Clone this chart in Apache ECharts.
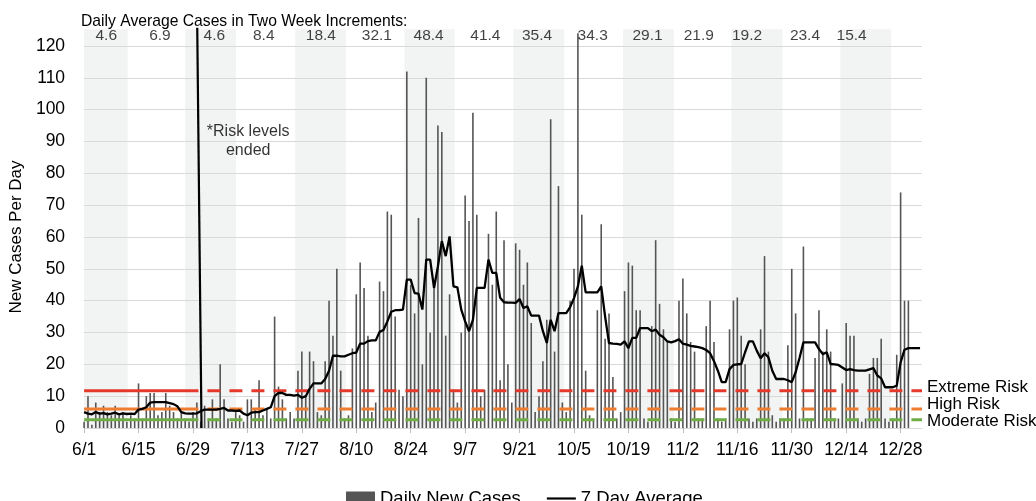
<!DOCTYPE html>
<html><head><meta charset="utf-8">
<script src="https://cdn.jsdelivr.net/npm/echarts@6/dist/echarts.min.js"></script>
<style>html,body{margin:0;padding:0;background:#fff}#c{width:1036px;height:501px}</style>
</head><body><div id="c"></div>
<script>
// ---- data (day index 0 = 6/1) ----
const tickLabels = ['6/1','6/15','6/29','7/13','7/27','8/10','8/24','9/7','9/21','10/5','10/19','11/2','11/16','11/30','12/14','12/28'];
const dailyCases = [
  2,10,1,8,5,7,5,4,7,4,5,2,4,3,
  14,3,10,11,11,4,5,11,7,5,3,5,3,2,
  5,8,2,7,3,9,3,20,9,3,2,5,4,2,
  9,9,6,15,4,6,3,35,13,9,3,5,3,18,
  24,10,24,21,5,4,21,40,29,50,18,3,4,25,
  42,52,44,29,5,8,46,43,68,67,35,12,10,112,
  45,36,66,20,110,30,45,95,93,29,42,12,8,30,
  73,65,99,67,10,12,61,45,68,15,59,20,8,58,
  56,45,52,33,5,10,21,34,97,24,76,8,5,40,
  50,124,67,18,4,3,37,64,28,36,16,3,5,43,
  52,51,37,37,3,2,32,59,39,31,27,3,2,40,
  47,36,27,24,3,3,32,40,27,3,2,3,31,40,
  41,29,20,3,2,3,31,54,24,4,2,3,3,26,
  50,36,3,57,3,3,22,37,24,31,24,3,3,14,
  33,29,29,3,2,3,17,22,22,28,3,2,3,23,
  74,40,40,0,0,0
];
const avg7 = [
  5,4.5,4.3,5,4.5,4.7,4.3,4.5,4.8,4.3,4.6,4.4,4.5,4.4,
  5.8,6,6.5,8,8.1,8.1,8.1,8.1,7.8,7.5,6.8,5,4.6,4.5,
  4.5,4.6,5.3,5.8,5.8,5.8,5.8,6,6.3,5.5,5.5,5.4,5.5,4.5,
  4,4.8,5,5,5.5,6,6.5,10,11,11,10.4,10.4,10.2,10.4,
  9.5,10,12.3,14,14,14,15.4,18,22.7,22.7,22.5,22.5,23,23.5,
  23.7,26.5,26.5,27.3,27.5,27.5,30.2,30.8,33.5,36.5,37,37,37.2,46.6,
  46.6,42.4,42.2,37.2,52.9,52.9,44,50.8,58.7,54,60.2,44.5,44.2,37.2,
  33.5,30.4,34,44,44,44,52.9,48.7,48.7,40.9,39.5,39.4,39.4,39.3,
  40.5,37.7,38.2,35.3,35.3,35.3,30.4,26.7,34,30.4,36.1,36.1,36.1,38,
  40.8,44.5,51,42.6,42.6,42.6,42.6,44.5,35,26.7,26.5,26.4,26.2,27.2,
  25.1,28.3,28.3,31.4,31.4,31.4,30.4,30.9,29.3,28.5,27.2,26.9,27.3,27.9,
  26.5,26.2,25.8,25.6,25.4,25.1,24.5,23.5,21,18,14.4,14.4,18.5,19.8,
  20,20.1,23.8,27.2,27.2,24.3,21.9,23.5,22.2,18,15.4,15.4,15.4,15,
  14.4,17.5,22,26.9,26.9,26.9,26.9,24.8,23.2,23.8,20.1,20,19.8,19,
  18.2,18.5,18.2,18,18,18,18.4,18.8,16.5,15.6,12.8,12.8,12.8,13.3,
  20.6,24.6,25.1,25.1,25.1,25.1
];
const twoWeekAverages = ['4.6','6.9','4.6','8.4','18.4','32.1','48.4','41.4','35.4','34.3','29.1','21.9','19.2','23.4','15.4'];
const riskNames = ['Extreme Risk','High Risk','Moderate Risk'];
const riskValues = [11.7, 6.0, 2.6];

// ---- layout (day coordinates of decorations) ----
const X_MAX = 215.5;
const RISK_END_DAY = 29.4;
const bandSpans = [[0,11.2],[26.0,39.1],[54.3,67.3],[82.4,95.3],[110.4,123.5],[138.6,151.7],[166.5,179.6],[194.5,207.6]];
const bandLabelDay = [5.7,19.5,33.5,46.2,60.9,75.3,88.6,103.2,116.5,130.8,144.9,158.1,170.5,185.4,197.4];
const BAND_TOP = 125.3, BAND_LABEL_Y = 123.2;
const riskColors = ['#e5392c','#ed7d31','#70ad47'];
const riskLabelOffset = [-3.5,-4.5,1.7];
const FONT = '"Liberation Sans", Arial, Helvetica, sans-serif';

const chart = echarts.init(document.getElementById('c'), null, {renderer:'canvas'});
const series = [];
series.push({
  type:'custom', name:'bands', z:-1, silent:true, clip:false,
  data: bandSpans,
  renderItem(params, api){
    const p0 = api.coord([api.value(0), BAND_TOP]);
    const p1 = api.coord([api.value(1), 0]);
    return {type:'rect', shape:{x:p0[0], y:p0[1], width:p1[0]-p0[0], height:p1[1]-p0[1]}, style:{fill:'#f2f3f3'}};
  }
});
series.push({
  type:'bar', name:'Daily New Cases', barWidth:1.6, clip:false, z:2,
  itemStyle:{color:'#555555'},
  data: dailyCases.map((v,i)=>[i,v])
});
riskValues.forEach((v,k)=>{
  series.push({type:'line', name:'risk'+k, silent:true, showSymbol:false, symbol:'none', z:3,
    lineStyle:{color:riskColors[k], width:3, type:'solid'},
    data:[[0,v],[RISK_END_DAY,v]]});
  series.push({type:'line', name:'riskd'+k, silent:true, showSymbol:false, symbol:'none', z:3,
    lineStyle:{color:riskColors[k], width:3, type:[13,9], dashOffset:13},
    data:[[RISK_END_DAY,v],[X_MAX,v]],
    endLabel:{show:true, formatter:riskNames[k], distance:5, offset:[0,riskLabelOffset[k]], fontSize:17, fontFamily:FONT, color:'#000'}});
});
series.push({
  type:'line', name:'7 Day Average', showSymbol:false, symbol:'none', z:4,
  lineStyle:{color:'#000', width:2.3}, itemStyle:{color:'#000'},
  data: avg7.map((v,i)=>[i,v])
});
series.push({
  type:'line', name:'ended', silent:true, showSymbol:false, symbol:'none', z:5, clip:false,
  lineStyle:{color:'#000', width:2.2},
  data:[[29.1,125.7],[30.2,0]]
});
series.push({
  type:'scatter', name:'bandLabels', silent:true, clip:false, symbolSize:0, z:6,
  data: bandLabelDay.map((d,i)=>({value:[d,BAND_LABEL_Y], label:{formatter:twoWeekAverages[i]}})),
  label:{show:true, position:'inside', fontSize:15.5, fontFamily:FONT, color:'#111'}
});
series.push({
  type:'scatter', name:'note', silent:true, clip:false, symbolSize:0, z:6,
  data:[{value:[42.2,90], label:{formatter:'*Risk levels\nended'}}],
  label:{show:true, position:'inside', fontSize:16, lineHeight:19, fontFamily:FONT, color:'#000', align:'center'}
});

chart.setOption({
  animation:false,
  backgroundColor:'#fff',
  textStyle:{fontFamily:FONT},
  title:{text:'Daily Average Cases in Two Week Increments:', left:76, top:9,
    textStyle:{fontSize:15.7, fontWeight:'normal', color:'#000', fontFamily:FONT}},
  grid:{left:81, right:114, top:46, bottom:73},
  legend:{
    data:[{name:'Daily New Cases', icon:'rect'},{name:'7 Day Average', icon:'path://M0,0 L32,0 L32,2.4 L0,2.4 Z'}],
    left:341, top:484, itemWidth:29, itemHeight:14, itemGap:26,
    textStyle:{fontSize:18.5, color:'#000', fontFamily:FONT}
  },
  xAxis:{
    type:'value', min:0, max:X_MAX,
    axisLine:{show:true, lineStyle:{color:'#d9d9d9', width:1}},
    axisTick:{show:true, customValues:tickLabels.map((_,i)=>i*14), length:5, lineStyle:{color:'#bfbfbf'}},
    axisLabel:{customValues:tickLabels.map((_,i)=>i*14), formatter:(v)=>tickLabels[Math.round(v/14)], fontSize:17.5, color:'#000', margin:13, fontFamily:FONT},
    splitLine:{show:false}
  },
  yAxis:{
    type:'value', min:0, max:120, interval:10,
    name:'New Cases Per Day', nameLocation:'middle', nameGap:57,
    nameTextStyle:{fontSize:17, color:'#000', fontFamily:FONT},
    axisLine:{show:false}, axisTick:{show:false},
    axisLabel:{fontSize:17.5, color:'#000', margin:19, fontFamily:FONT},
    splitLine:{lineStyle:{color:'#d9d9d9', width:1}}
  },
  series
});
</script></body></html>
